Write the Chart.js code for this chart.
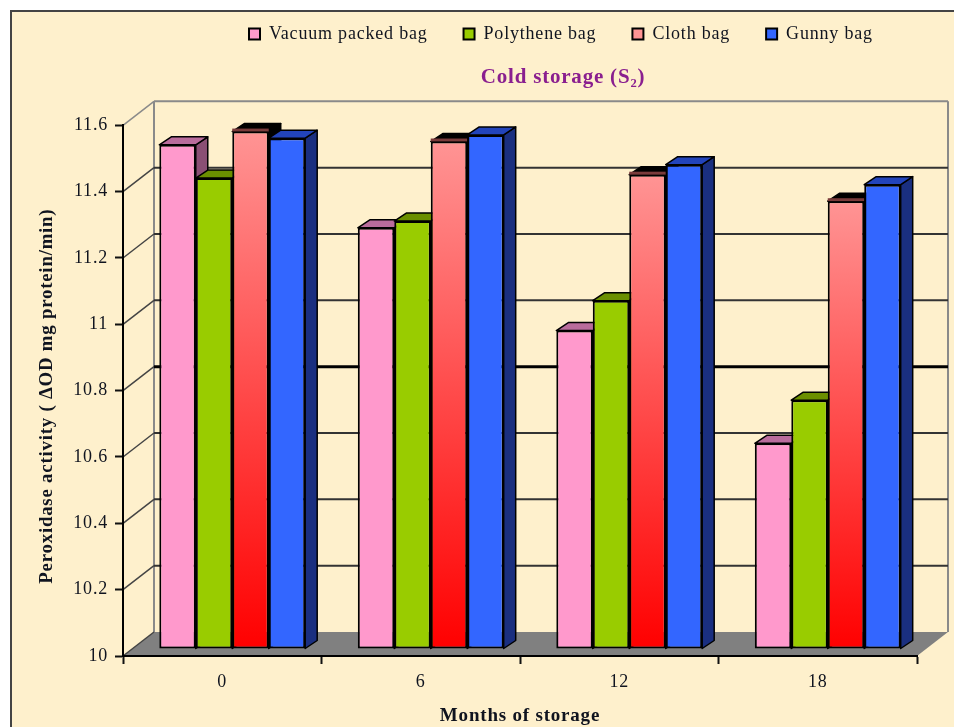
<!DOCTYPE html>
<html>
<head>
<meta charset="utf-8">
<title>Cold storage</title>
<script src="https://cdn.jsdelivr.net/npm/chart.js@4"></script>
<style>
    html, body { margin: 0; padding: 0; background: #fff; overflow: hidden; }
    #frame {
        position: absolute; left: 10px; top: 10px; width: 980px; height: 760px;
        border: 2px solid #444; background: #fef0cc;
    }
    /* the original is a soft, upscaled scan */
    #chart { position: absolute; left: 0; top: 0; filter: blur(0.5px); }
</style>
</head>
<body>
<div id="frame"></div>
<canvas id="chart" width="954" height="727"></canvas>
<script>
// Values
const months = ['0', '6', '12', '18'];
const vacuumPacked = [11.52, 11.27, 10.96, 10.62];
const polythene = [11.42, 11.29, 11.05, 10.75];
const cloth = [11.56, 11.53, 11.43, 11.35];
const gunny = [11.54, 11.55, 11.46, 11.40];
const tickLabels = ['10', '10.2', '10.4', '10.6', '10.8', '11', '11.2', '11.4', '11.6'];

const textColor = '#10141f';
const serif = 'Liberation Serif';

// 3D look: how far the back wall and the bars sit behind the front axes
const wall = { dx: 31, dy: -24 };
const barPlane = { dx: 10, dy: -7 };
const barDepth = { dx: 12, dy: -8 };

const topColors = ['#b96c9c', '#6b8f00', '#000000', '#2244bb'];
const sideColors = ['#8a4f74', '#5f7f00', '#000000', '#1a2f80'];

// Cloth bars fade from light red at the top to pure red at the base
function clothFill(context) {
    const yScale = context.chart.scales.y;
    if (!context.parsed || !yScale) {
        return '#ff3333';
    }
    const top = yScale.getPixelForValue(context.parsed.y);
    const base = yScale.getPixelForValue(10);
    if (!isFinite(top) || !isFinite(base)) {
        return '#ff3333';
    }
    const gradient = context.chart.ctx.createLinearGradient(0, top, 0, base);
    gradient.addColorStop(0, '#ff9494');
    gradient.addColorStop(1, '#ff0000');
    return gradient;
}

function polygon(ctx, points, fill, stroke, lineWidth) {
    ctx.beginPath();
    points.forEach((p, i) => (i ? ctx.lineTo(p[0], p[1]) : ctx.moveTo(p[0], p[1])));
    ctx.closePath();
    if (fill) {
        ctx.fillStyle = fill;
        ctx.fill();
    }
    if (stroke) {
        ctx.strokeStyle = stroke;
        ctx.lineWidth = lineWidth;
        ctx.stroke();
    }
}

function line(ctx, x1, y1, x2, y2, color, width) {
    ctx.beginPath();
    ctx.moveTo(x1, y1);
    ctx.lineTo(x2, y2);
    ctx.strokeStyle = color;
    ctx.lineWidth = width;
    ctx.stroke();
}

// Walls, floor and back grid lines
const wallsPlugin = {
    id: 'walls',
    beforeDraw(chart) {
        const { ctx, chartArea: area, scales } = chart;
        const { dx, dy } = wall;
        ctx.save();
        polygon(ctx, [
            [area.left, area.bottom], [area.left + dx, area.bottom + dy],
            [area.right + dx, area.bottom + dy], [area.right, area.bottom]
        ], '#808080');
        line(ctx, area.left + dx, area.top + dy, area.left + dx, area.bottom + dy, '#8a8a8a', 2);
        line(ctx, area.right + dx, area.top + dy, area.right + dx, area.bottom + dy, '#8a8a8a', 2);
        line(ctx, area.left + dx, area.top + dy, area.right + dx, area.top + dy, '#8a8a8a', 2);
        scales.y.ticks.forEach((tick, i) => {
            const y = scales.y.getPixelForTick(i);
            line(ctx, area.left, y, area.left + dx, y + dy, i === tickLabels.length - 1 ? '#8a8a8a' : '#444', 1.5);
            if (i > 0 && i < tickLabels.length - 1) {
                // the 10.8 line is heavier in the original
                const heavy = tickLabels[i] === '10.8';
                line(ctx, area.left + dx, y + dy, area.right + dx, y + dy, heavy ? '#000' : '#333', heavy ? 3 : 2);
            }
        });
        ctx.restore();
    },
    // Draw the series left to right so each front face covers the side of the bar before it
    beforeDatasetsDraw(chart) {
        const { ctx } = chart;
        ctx.save();
        ctx.translate(barPlane.dx, barPlane.dy);
        ctx.lineJoin = 'round';
        chart.data.datasets.forEach((dataset, index) => {
            const meta = chart.getDatasetMeta(index);
            meta.data.forEach(bar => {
                const left = bar.x - bar.width / 2;
                const right = bar.x + bar.width / 2;
                const { dx, dy } = barDepth;
                polygon(ctx, [
                    [right, bar.y], [right + dx, bar.y + dy],
                    [right + dx, bar.base + dy], [right, bar.base]
                ], sideColors[index], '#000', 1.5);
                polygon(ctx, [
                    [left, bar.y], [left + dx, bar.y + dy],
                    [right + dx, bar.y + dy], [right, bar.y]
                ], topColors[index], '#000', 1.5);
                if (index === 2) {
                    ctx.fillStyle = '#7a3b3b';
                    ctx.fillRect(left, bar.y - 3, bar.width, 3);
                }
            });
            meta.controller.draw();
        });
        ctx.restore();
        return false;
    }
};

// Legend and title sit off-centre in the original, and the text is widely spaced
const placementPlugin = {
    id: 'placement',
    beforeLayout(chart) {
        chart.ctx.letterSpacing = '0.8px';
    },
    afterLayout(chart) {
        const pad = chart.options.plugins.legend.labels.padding;
        chart.legend.left = 249 - pad;
        chart.legend.right = 954;
        chart.legend.top = 25 - pad;
        chart.titleBlock.left = 173;
        chart.titleBlock.right = 953;
        chart.titleBlock.top = 56.4;
        chart.titleBlock.bottom = 56.4 + chart.titleBlock.height;
    },
    beforeDraw(chart) {
        chart.ctx.letterSpacing = '0.8px';
    }
};

function makeDataset(label, data, color) {
    return { label, data, base: 10, backgroundColor: color, borderColor: '#000', borderWidth: 2, borderSkipped: false };
}

new Chart(document.getElementById('chart'), {
    type: 'bar',
    data: {
        labels: months,
        datasets: [
            makeDataset('Vacuum packed bag', vacuumPacked, '#ff99cc'),
            makeDataset('Polythene bag', polythene, '#99cc00'),
            makeDataset('Cloth bag', cloth, clothFill),
            makeDataset('Gunny bag', gunny, '#3366ff')
        ]
    },
    options: {
        responsive: false,
        animation: false,
        layout: { padding: { left: 0, right: 37, top: 0, bottom: 0 } },
        categoryPercentage: 0.735,
        barPercentage: 1,
        plugins: {
            tooltip: { enabled: false },
            legend: {
                position: 'top',
                align: 'start',
                labels: {
                    boxWidth: 11,
                    boxHeight: 11,
                    padding: 36,
                    color: textColor,
                    font: { family: serif, size: 18 }
                }
            },
            title: {
                display: true,
                text: 'Cold storage (S₂)',
                color: '#8a1f8f',
                padding: { top: 9, bottom: 27.1 },
                font: { family: serif, size: 21, weight: 'bold' }
            }
        },
        scales: {
            x: {
                afterFit(scale) { scale.height = 71; },
                grid: { drawOnChartArea: false, tickLength: 8, tickColor: '#111', tickWidth: 2 },
                border: { color: '#000', width: 2 },
                ticks: { color: textColor, padding: 7, maxRotation: 0, font: { family: serif, size: 18 } },
                title: {
                    display: true,
                    text: 'Months of storage',
                    color: textColor,
                    padding: { top: 2, bottom: 0 },
                    font: { family: serif, size: 19, weight: 'bold' }
                }
            },
            y: {
                min: 10,
                max: 11.6,
                afterFit(scale) { scale.width = 123; },
                afterBuildTicks(scale) {
                    scale.ticks = tickLabels.map(label => ({ value: parseFloat(label) }));
                },
                grid: { drawOnChartArea: false, tickLength: 8, tickColor: '#111', tickWidth: 2 },
                border: { color: '#000', width: 2 },
                ticks: {
                    color: textColor,
                    padding: 7,
                    font: { family: serif, size: 18 },
                    callback: (value, index) => tickLabels[index]
                },
                title: {
                    display: true,
                    text: 'Peroxidase activity ( ΔOD mg protein/min)  ',
                    color: textColor,
                    padding: { top: 36, bottom: 0 },
                    font: { family: serif, size: 18.8, weight: 'bold' }
                }
            }
        }
    },
    plugins: [wallsPlugin, placementPlugin]
});
</script>
</body>
</html>
